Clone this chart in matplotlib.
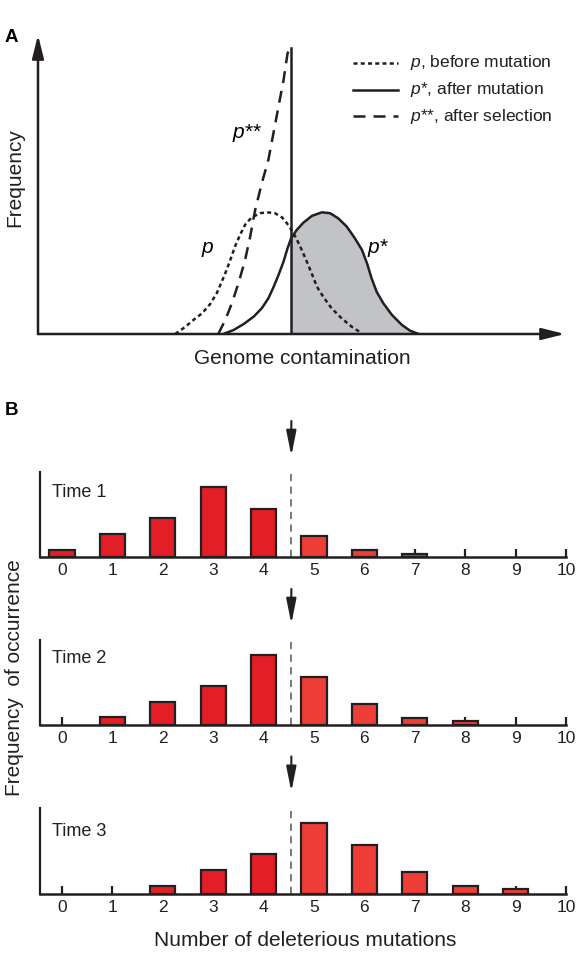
import numpy as np
import matplotlib.pyplot as plt
from matplotlib.lines import Line2D
from matplotlib.transforms import blended_transform_factory

plt.rcParams['font.family'] = ['Liberation Sans', 'DejaVu Sans']
plt.rcParams['mathtext.fontset'] = 'custom'
plt.rcParams['mathtext.it'] = 'Liberation Sans:italic'
plt.rcParams['mathtext.rm'] = 'Liberation Sans'

# ── Panel A : distributions ──────────────────────────────────
P_X = [2.71, 2.91, 3.07, 3.24, 3.40, 3.53, 3.63, 3.73, 3.81, 3.89, 3.99, 4.09,
       4.22, 4.39, 4.52, 4.68, 4.82, 4.91, 5.01, 5.11, 5.21, 5.31, 5.41, 5.51,
       5.64, 5.80, 6.00, 6.20, 6.40]
P_Y = [0.00, 0.24, 0.47, 0.69, 1.00, 1.36, 1.75, 2.16, 2.53, 2.92, 3.31, 3.65,
       3.90, 4.04, 4.07, 4.04, 3.90, 3.72, 3.48, 3.17, 2.81, 2.42, 2.01, 1.58,
       1.23, 0.86, 0.52, 0.24, 0.02]

PS_X = [3.66, 3.86, 4.06, 4.26, 4.42, 4.55, 4.65, 4.75, 4.85, 4.93, 5.00, 5.11,
        5.24, 5.41, 5.61, 5.77, 5.93, 6.10, 6.26, 6.40, 6.50, 6.59, 6.69, 6.82,
        6.99, 7.19, 7.35, 7.52]
PS_Y = [0.00, 0.13, 0.33, 0.58, 0.86, 1.19, 1.56, 1.97, 2.42, 2.87, 3.20, 3.48,
        3.72, 3.95, 4.07, 4.04, 3.87, 3.59, 3.20, 2.81, 2.36, 1.86, 1.41, 1.03,
        0.64, 0.30, 0.11, 0.00]

PSS_X = [3.56, 3.70, 3.83, 3.96, 4.09, 4.19, 4.29, 4.42, 4.55, 4.65, 4.75, 4.85,
         4.93, 4.98]
PSS_Y = [0.00, 0.47, 1.03, 1.70, 2.47, 3.25, 4.15, 5.04, 5.82, 6.71, 7.60, 8.49,
         9.39, 9.55]

CUTOFF = 5.0
CUTOFF_TOP = 9.55

LEGEND_LABELS = [r'$p$, before mutation', r'$p$*, after mutation',
                 r'$p$**, after selection']

# ── Panel B : histograms ──────────────────────────────────────
N_MUT = np.arange(11)
TIME_1 = [22, 69, 116, 210, 145, 63, 20, 10, 0, 0, 0]
TIME_2 = [0, 24, 69, 117, 210, 145, 63, 22, 11, 0, 0]
TIME_3 = [0, 0, 25, 72, 118, 212, 146, 65, 24, 15, 0]
TIMES = ['Time 1', 'Time 2', 'Time 3']
THRESHOLD = 4.55

INK = '#231f20'
RED_L = '#e41e26'
RED_R = '#ee3e37'
GREY = '#c2c3c6'

W, H = 580, 955
fig = plt.figure(figsize=(W / 100, H / 100), dpi=100)


def fx(px):
    return px / W


def fy(py):
    return 1 - py / H


# ── A ─────────────────────────────────────────────────────────
axA = fig.add_axes([fx(38), fy(334), fx(565) - fx(38), fy(35) - fy(334)])
axA.set_xlim(0, 10.41)
axA.set_ylim(0, 10)
axA.axis('off')

ps_x = np.array(PS_X)
ps_y = np.array(PS_Y)
m = ps_x >= CUTOFF
axA.fill_between(ps_x[m], 0, ps_y[m], color=GREY, lw=0)

axA.plot(P_X, P_Y, color=INK, lw=1.8, ls=(0, (1.6, 1.3)))
axA.plot(PS_X, PS_Y, color=INK, lw=1.8)
axA.plot(PSS_X, PSS_Y, color=INK, lw=1.8, ls=(0, (4.8, 3.2)))
axA.plot([CUTOFF, CUTOFF], [0, CUTOFF_TOP], color=INK, lw=1.8)

arrow = dict(arrowstyle='-|>,head_length=1.4,head_width=0.35', lw=1.8,
             color=INK, shrinkA=0, shrinkB=0)
axA.annotate('', xy=(10.41, 0), xytext=(0, 0), arrowprops=arrow,
             annotation_clip=False)
axA.annotate('', xy=(0, 10), xytext=(0, 0), arrowprops=arrow,
             annotation_clip=False)

axA.text(4.13, 6.72, r'$p$**', fontsize=15, ha='center', va='center')
axA.text(3.36, 2.81, r'$p$', fontsize=15, ha='center', va='center')
axA.text(6.72, 2.88, r'$p$*', fontsize=15, ha='center', va='center')

# legend drawn by hand
styles = [(0, (1.6, 1.3)), '-', (0, (4.8, 3.2))]
for i, (lab, st) in enumerate(zip(LEGEND_LABELS, styles)):
    y = fy(63 + i * 26.5)
    fig.add_artist(Line2D([fx(353), fx(398)], [y, y], color=INK, lw=1.8,
                          ls=st, transform=fig.transFigure))
    fig.text(fx(410), y, lab, fontsize=12.5, va='center', color=INK)

fig.text(fx(302), fy(364), 'Genome contamination', fontsize=15,
         ha='center', va='baseline', color=INK)
fig.text(fx(15), fy(178), 'Frequency', fontsize=15, rotation=90,
         ha='center', va='center', color=INK)
fig.text(fx(5), fy(42), 'A', fontsize=13.5, fontweight='bold', va='baseline')

# ── B ─────────────────────────────────────────────────────────
panels = [(557, 472, TIME_1, 0.71), (725, 640, TIME_2, 0.73),
          (894, 808, TIME_3, 0.67)]
for (bot, top, vals, ty), name in zip(panels, TIMES):
    ax = fig.add_axes([fx(40), fy(bot), fx(566) - fx(40), fy(top) - fy(bot)])
    ax.set_xlim(-0.437, 10.0)
    ax.set_ylim(0, 255)
    vals = np.array(vals)
    keep = vals > 0
    cols = np.where(N_MUT <= 4, RED_L, RED_R)
    ax.bar(N_MUT[keep], vals[keep], width=0.5, color=cols[keep],
           edgecolor=INK, lw=1.6, zorder=3)
    ax.axvline(THRESHOLD, ymax=0.98, color='#6d6e71', lw=1.3,
               ls=(0, (4, 3)), zorder=2)
    for s in ['top', 'right']:
        ax.spines[s].set_visible(False)
    ax.spines['left'].set_linewidth(1.6)
    ax.spines['bottom'].set_linewidth(1.8)
    ax.spines['left'].set_color(INK)
    ax.spines['bottom'].set_color(INK)
    ax.set_yticks([])
    ax.set_xticks(N_MUT)
    ax.tick_params(axis='x', direction='in', length=6, width=1.6, color=INK,
                   labelsize=12.5, labelcolor=INK, pad=4)
    trans = blended_transform_factory(ax.transData, ax.transAxes)
    ax.text(-0.2, ty, name, transform=trans, fontsize=13, va='baseline',
            color=INK)
    ax.annotate('', xy=(THRESHOLD, 1.19), xytext=(THRESHOLD, 1.6),
                xycoords=trans, textcoords=trans,
                arrowprops=dict(arrowstyle='-|>,head_length=1.5,head_width=0.3',
                                lw=1.5, color=INK, shrinkA=0, shrinkB=0),
                annotation_clip=False)

fig.text(fx(305), fy(946), 'Number of deleterious mutations', fontsize=15,
         ha='center', va='baseline', color=INK)
fig.text(fx(15), fy(678), 'Frequency  of occurrence', fontsize=15,
         rotation=90, ha='center', va='center', color=INK)
fig.text(fx(5), fy(415), 'B', fontsize=13.5, fontweight='bold', va='baseline')

fig.savefig('out.png', dpi=100)
